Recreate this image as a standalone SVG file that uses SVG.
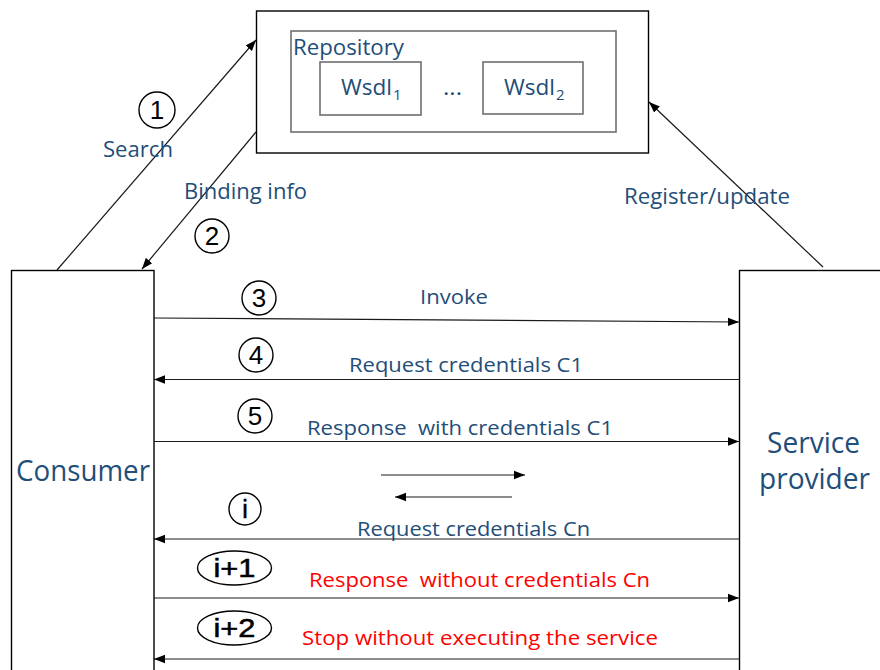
<svg xmlns="http://www.w3.org/2000/svg" width="880" height="670" viewBox="0 0 880 670">
<defs>
<marker id="ah" markerUnits="userSpaceOnUse" markerWidth="12" markerHeight="10" refX="11" refY="5" orient="auto">
<path d="M0,0.8 L11,5 L0,9.2 Z" fill="#000"/>
</marker>
<style>
.t{font-family:"Open Sans","Noto Sans","Liberation Sans",sans-serif;fill:#1F4E79;}
.r{font-family:"Open Sans","Noto Sans","Liberation Sans",sans-serif;fill:#FF0000;}
.n{font-family:"Liberation Sans",Arial,sans-serif;fill:#000;font-size:26px;text-anchor:middle;}
.b{font-size:25px;stroke:#000;stroke-width:0.5;}
.c{fill:#fff;stroke:#000;stroke-width:1.4;}
.ln{fill:none;stroke:#1a1a1a;stroke-width:1.2;marker-end:url(#ah);}
.box{fill:#fff;stroke:#000;stroke-width:1.4;}
.gbox{fill:#fff;stroke:#6f6f6f;stroke-width:1.6;}
</style>
</defs>
<rect width="880" height="670" fill="#fff"/>

<g id="repository-node">
<rect class="box" x="256.5" y="11" width="392" height="142"/>
<rect class="gbox" x="291" y="31" width="325" height="101"/>
<text class="t" x="293" y="55" font-size="21" textLength="111" lengthAdjust="spacingAndGlyphs">Repository</text>
</g>
<g id="wsdl1-node">
<rect class="gbox" x="320" y="62" width="101" height="53"/>
<text class="t" x="341" y="95" font-size="21" textLength="51" lengthAdjust="spacingAndGlyphs">Wsdl</text>
<text class="t" x="393" y="100" font-size="15">1</text>
</g>
<text class="t" x="443" y="95" font-size="21" textLength="19" lengthAdjust="spacingAndGlyphs">...</text>
<g id="wsdl2-node">
<rect class="gbox" x="483" y="62" width="100" height="52"/>
<text class="t" x="504" y="95" font-size="21" textLength="51" lengthAdjust="spacingAndGlyphs">Wsdl</text>
<text class="t" x="556" y="100" font-size="15">2</text>
</g>

<g id="consumer-node">
<rect class="box" x="11.5" y="270.5" width="142.5" height="420"/>
<text class="t" x="16" y="481" font-size="29" textLength="134" lengthAdjust="spacingAndGlyphs">Consumer</text>
</g>
<g id="service-provider-node">
<rect class="box" x="739.5" y="270.5" width="160" height="420"/>
<text class="t" x="767" y="453" font-size="29" textLength="93" lengthAdjust="spacingAndGlyphs">Service</text>
<text class="t" x="759" y="489" font-size="29" textLength="111" lengthAdjust="spacingAndGlyphs">provider</text>
</g>

<g id="connectors">
<line class="ln" x1="57" y1="270" x2="256" y2="40"/>
<line class="ln" x1="256" y1="132" x2="142" y2="269"/>
<line class="ln" x1="823" y1="267" x2="649" y2="102"/>
<line class="ln" x1="154" y1="318" x2="739" y2="322"/>
<line class="ln" x1="739" y1="379.5" x2="154" y2="379.5"/>
<line class="ln" x1="154" y1="441.5" x2="739" y2="441.5"/>
<line class="ln" x1="381" y1="475" x2="525" y2="475"/>
<line class="ln" x1="512" y1="497" x2="395" y2="497"/>
<line class="ln" x1="739" y1="539" x2="154" y2="539"/>
<line class="ln" x1="154" y1="598" x2="739" y2="598"/>
<line class="ln" x1="739" y1="659" x2="154" y2="659"/>
</g>

<g id="labels">
<text class="t" x="103" y="157" font-size="21" textLength="70" lengthAdjust="spacingAndGlyphs">Search</text>
<text class="t" x="184" y="199" font-size="21" textLength="123" lengthAdjust="spacingAndGlyphs">Binding info</text>
<text class="t" x="624" y="204" font-size="21" textLength="166" lengthAdjust="spacingAndGlyphs">Register/update</text>
<text class="t" x="420" y="304" font-size="20" textLength="68" lengthAdjust="spacingAndGlyphs">Invoke</text>
<text class="t" x="349" y="372" font-size="20" textLength="234" lengthAdjust="spacingAndGlyphs">Request credentials C1</text>
<text class="t" x="307" y="435" font-size="20" textLength="306" lengthAdjust="spacingAndGlyphs" xml:space="preserve">Response  with credentials C1</text>
<text class="t" x="357" y="536" font-size="20" textLength="233" lengthAdjust="spacingAndGlyphs">Request credentials Cn</text>
<text class="r" x="309" y="587" font-size="20" textLength="341" lengthAdjust="spacingAndGlyphs" xml:space="preserve">Response  without credentials Cn</text>
<text class="r" x="302" y="645" font-size="20" textLength="356" lengthAdjust="spacingAndGlyphs">Stop without executing the service</text>
</g>

<g id="step-1"><circle class="c" cx="157" cy="110" r="18"/><text class="n" x="157" y="119">1</text></g>
<g id="step-2"><circle class="c" cx="212" cy="236" r="17"/><text class="n" x="212" y="245">2</text></g>
<g id="step-3"><circle class="c" cx="259" cy="298" r="17"/><text class="n" x="259" y="307">3</text></g>
<g id="step-4"><circle class="c" cx="256" cy="355" r="17"/><text class="n" x="256" y="364">4</text></g>
<g id="step-5"><circle class="c" cx="255" cy="416" r="17"/><text class="n" x="255" y="425">5</text></g>
<g id="step-i"><circle class="c" cx="245" cy="509" r="16"/><text class="n b" x="245" y="518">i</text></g>
<g id="step-i1"><ellipse class="c" cx="234.5" cy="568" rx="37" ry="17"/><text class="n b" x="234.5" y="577" textLength="42" lengthAdjust="spacingAndGlyphs">i+1</text></g>
<g id="step-i2"><ellipse class="c" cx="234.5" cy="628" rx="37" ry="17"/><text class="n b" x="234.5" y="637" textLength="42" lengthAdjust="spacingAndGlyphs">i+2</text></g>
</svg>
